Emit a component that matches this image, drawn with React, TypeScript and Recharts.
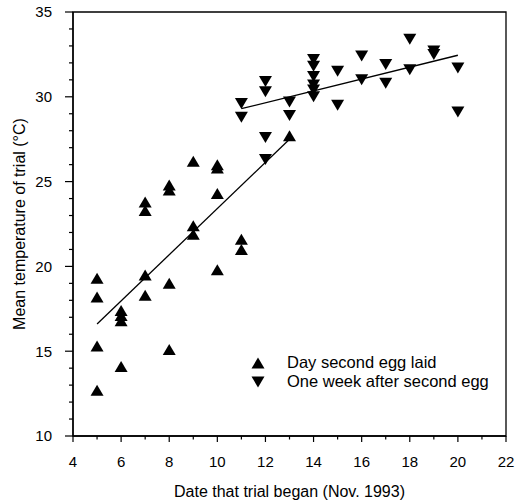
import React from 'react';
import {
  ScatterChart,
  Scatter,
  XAxis,
  YAxis,
  ReferenceLine,
  ReferenceArea,
  Legend,
} from 'recharts';

const FONT = '"Liberation Sans", Arial, Helvetica, sans-serif';

// Day second egg laid (upward triangles)
const daySecondEgg = [
  { x: 5, y: 19.3 }, { x: 5, y: 18.2 }, { x: 5, y: 15.3 }, { x: 5, y: 12.7 },
  { x: 6, y: 17.4 }, { x: 6, y: 17.1 }, { x: 6, y: 16.8 }, { x: 6, y: 14.1 },
  { x: 7, y: 23.8 }, { x: 7, y: 23.3 }, { x: 7, y: 19.5 }, { x: 7, y: 18.3 },
  { x: 8, y: 24.8 }, { x: 8, y: 24.5 }, { x: 8, y: 19.0 }, { x: 8, y: 15.1 },
  { x: 9, y: 26.2 }, { x: 9, y: 22.4 }, { x: 9, y: 21.9 },
  { x: 10, y: 26.0 }, { x: 10, y: 25.8 }, { x: 10, y: 24.3 }, { x: 10, y: 19.8 },
  { x: 11, y: 21.6 }, { x: 11, y: 21.0 },
  { x: 13, y: 27.7 },
];

// One week after second egg (downward triangles)
const weekAfter = [
  { x: 11, y: 29.6 }, { x: 11, y: 28.8 },
  { x: 12, y: 30.9 }, { x: 12, y: 30.3 }, { x: 12, y: 27.6 }, { x: 12, y: 26.3 },
  { x: 13, y: 29.7 }, { x: 13, y: 28.9 },
  { x: 14, y: 32.2 }, { x: 14, y: 31.8 }, { x: 14, y: 31.2 }, { x: 14, y: 30.7 }, { x: 14, y: 30.4 }, { x: 14, y: 30.0 },
  { x: 15, y: 31.5 }, { x: 15, y: 29.5 },
  { x: 16, y: 32.4 }, { x: 16, y: 31.0 },
  { x: 17, y: 31.9 }, { x: 17, y: 30.8 },
  { x: 18, y: 33.4 }, { x: 18, y: 31.6 },
  { x: 19, y: 32.7 }, { x: 19, y: 32.5 },
  { x: 20, y: 31.7 }, { x: 20, y: 29.1 },
];

// Regression line end points
const fitDaySecondEgg = [{ x: 5, y: 16.6 }, { x: 13, y: 27.5 }];
const fitWeekAfter = [{ x: 11, y: 29.3 }, { x: 20, y: 32.45 }];

const xTicks = [4, 5, 6, 7, 8, 9, 10, 11, 12, 13, 14, 15, 16, 17, 18, 19, 20, 21, 22];
const yTicks = [10, 11, 12, 13, 14, 15, 16, 17, 18, 19, 20, 21, 22, 23, 24, 25, 26, 27, 28, 29, 30, 31, 32, 33, 34, 35];

const legendLabels = ['Day second egg laid', 'One week after second egg'];
const xLabel = 'Date that trial began (Nov. 1993)';
const yLabel = 'Mean temperature of trial (°C)';

const triPoints = (cx: number, cy: number, up: boolean) => {
  const hw = 6.5;
  const hh = 5.5;
  return up
    ? `${cx},${cy - hh} ${cx - hw},${cy + hh} ${cx + hw},${cy + hh}`
    : `${cx},${cy + hh} ${cx - hw},${cy - hh} ${cx + hw},${cy - hh}`;
};

const UpTri = (props: any) => {
  const { cx, cy } = props;
  if (cx == null || cy == null) return null;
  return <polygon points={triPoints(cx, cy, true)} fill="#000" />;
};
const DownTri = (props: any) => {
  const { cx, cy } = props;
  if (cx == null || cy == null) return null;
  return <polygon points={triPoints(cx, cy, false)} fill="#000" />;
};

const XTick = (props: any) => {
  const { x, y, payload } = props;
  const v = payload.value;
  const major = v % 2 === 0;
  return (
    <g>
      <line x1={x} x2={x} y1={y} y2={y + (major ? 6 : 3.5)} stroke="#000" strokeWidth={1.2} />
      {major && (
        <text x={x} y={y + 31} textAnchor="middle" fontSize={15} fontFamily={FONT} fill="#000">
          {v}
        </text>
      )}
    </g>
  );
};

const YTick = (props: any) => {
  const { x, y, payload } = props;
  const v = payload.value;
  const major = v % 5 === 0;
  return (
    <g>
      <line x1={x} x2={x - (major ? 8 : 4)} y1={y} y2={y} stroke="#000" strokeWidth={1.2} />
      {major && (
        <text x={52} y={y} dy="0.36em" textAnchor="end" fontSize={15} fontFamily={FONT} fill="#000">
          {v}
        </text>
      )}
    </g>
  );
};

const LegendContent = () => (
  <div style={{ fontFamily: FONT, fontSize: 16.5, color: '#000', lineHeight: '19px' }}>
    {legendLabels.map((label, i) => (
      <div key={label} style={{ display: 'flex', alignItems: 'center', height: 19, whiteSpace: 'nowrap' }}>
        <svg width={14} height={12} style={{ display: 'block' }}>
          <polygon points={triPoints(7, 6, i === 0)} fill="#000" />
        </svg>
        <span style={{ marginLeft: 22 }}>{label}</span>
      </div>
    ))}
  </div>
);

const YLabelContent = () => (
  <text
    x={25}
    y={224}
    transform="rotate(-90, 25, 224)"
    textAnchor="middle"
    fontSize={16}
    fontFamily={FONT}
    fill="#000"
  >
    {yLabel}
  </text>
);

const XLabelContent = () => (
  <text x={289.5} y={497} textAnchor="middle" fontSize={16} fontFamily={FONT} fill="#000">
    {xLabel}
  </text>
);

export default function App() {
  return (
    <div style={{ position: 'absolute', left: 0, top: 0, width: 515, height: 502, background: '#fff' }}>
      <ScatterChart width={515} height={502} margin={{ top: 12, right: 9, bottom: 0, left: 0 }}>
        <XAxis
          type="number"
          dataKey="x"
          domain={[4, 22]}
          ticks={xTicks}
          interval={0}
          allowDataOverflow
          height={66}
          tickSize={0}
          tickMargin={0}
          tickLine={false}
          axisLine={{ stroke: '#000', strokeWidth: 1.4 }}
          tick={<XTick />}
          label={<XLabelContent />}
        />
        <YAxis
          type="number"
          dataKey="y"
          domain={[10, 35]}
          ticks={yTicks}
          interval={0}
          allowDataOverflow
          width={73}
          tickSize={0}
          tickMargin={0}
          tickLine={false}
          axisLine={{ stroke: '#000', strokeWidth: 1.4 }}
          tick={<YTick />}
          label={<YLabelContent />}
        />
        <ReferenceArea x1={4} x2={22} y1={10} y2={35} fill="none" stroke="#000" strokeWidth={1.3} ifOverflow="visible" />
        <ReferenceLine segment={fitDaySecondEgg} stroke="#000" strokeWidth={1.3} />
        <ReferenceLine segment={fitWeekAfter} stroke="#000" strokeWidth={1.3} />
        <Scatter name={legendLabels[0]} data={daySecondEgg} shape={<UpTri />} isAnimationActive={false} />
        <Scatter name={legendLabels[1]} data={weekAfter} shape={<DownTri />} isAnimationActive={false} />
        <Legend
          layout="vertical"
          align="center"
          verticalAlign="middle"
          content={<LegendContent />}
          wrapperStyle={{ left: 251, top: 353, width: 260, height: 38 }}
        />
      </ScatterChart>
    </div>
  );
}
